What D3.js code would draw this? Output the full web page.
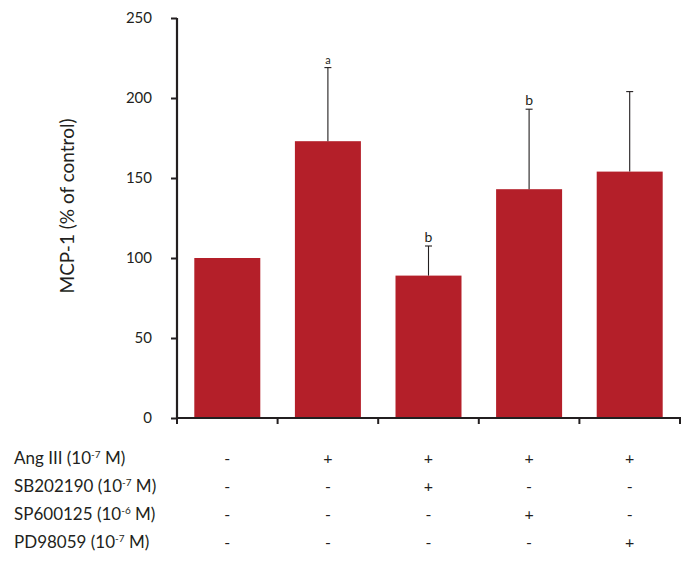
<!DOCTYPE html>
<html>
<head>
<meta charset="utf-8">
<script src="https://cdn.jsdelivr.net/npm/d3@7"></script>
<style>
  body { margin: 0; background: #fff; }
  text { font-family: Lato, "Open Sans", sans-serif; fill: #231f20; }
</style>
</head>
<body>
<script>
// data
const groups = ['control', 'AngIII', 'AngIII+SB', 'AngIII+SP', 'AngIII+PD'];
const means = [100, 173, 89, 143, 154];
const errTop = [null, 219, 107.5, 193, 204];
const sigLabels = ['', 'a', 'b', 'b', ''];
const yTicks = [0, 50, 100, 150, 200, 250];

const rowNames = [
  ['Ang III (10', '-7', ' M)'],
  ['SB202190 (10', '-7', ' M)'],
  ['SP600125 (10', '-6', ' M)'],
  ['PD98059 (10', '-7', ' M)']
];
const rowSigns = [
  ['-', '+', '+', '+', '+'],
  ['-', '-', '+', '-', '-'],
  ['-', '-', '-', '+', '-'],
  ['-', '-', '-', '-', '+']
];

const W = 699, H = 563;
const margin = { left: 177, right: 19, top: 18, bottom: 145 };
const innerH = H - margin.top - margin.bottom;

const svg = d3.select('body').append('svg')
    .attr('width', W)
    .attr('height', H);

const x = d3.scaleBand()
    .domain(groups)
    .range([margin.left, W - margin.right])
    .paddingInner(0.344)
    .paddingOuter(0.172);

const y = d3.scaleLinear()
    .domain([0, 250])
    .range([margin.top + innerH, margin.top]);

const red = '#b41f29';
const ink = '#231f20';

// bars
svg.append('g').selectAll('rect')
    .data(groups)
    .enter()
    .append('rect')
    .attr('x', d => x(d))
    .attr('width', x.bandwidth())
    .attr('y', (d, i) => y(means[i]))
    .attr('height', (d, i) => y(0) - y(means[i]))
    .attr('fill', red);

// error bars (upper only)
let eb = svg.append('g').attr('stroke', ink).attr('stroke-width', 1.1);
groups.forEach((g, i) => {
    if (errTop[i] == null) return;
    let cx = x(g) + x.bandwidth() / 2;
    eb.append('line')
        .attr('x1', cx).attr('x2', cx)
        .attr('y1', y(means[i])).attr('y2', y(errTop[i]));
    eb.append('line')
        .attr('x1', cx - 3.5).attr('x2', cx + 3.5)
        .attr('y1', y(errTop[i])).attr('y2', y(errTop[i]));
});

// significance letters
svg.append('g').selectAll('text')
    .data(groups)
    .enter()
    .append('text')
    .attr('x', d => x(d) + x.bandwidth() / 2)
    .attr('y', (d, i) => errTop[i] == null ? 0 : y(errTop[i]) - 4)
    .attr('text-anchor', 'middle')
    .attr('font-size', (d, i) => sigLabels[i] == 'a' ? 11 : 14)
    .text((d, i) => sigLabels[i]);

// y axis
let yAxis = svg.append('g')
    .attr('transform', 'translate(' + margin.left + ',0)')
    .call(d3.axisLeft(y).tickValues(yTicks).tickSize(6).tickPadding(19));
yAxis.select('.domain').attr('stroke', ink).attr('stroke-width', 2.2)
    .attr('d', 'M0,' + (y(250)) + 'V' + (y(0) + 1));
yAxis.selectAll('.tick line').attr('stroke', ink).attr('stroke-width', 2);
yAxis.selectAll('.tick text')
    .attr('font-size', 15)
    .attr('font-family', 'Lato, sans-serif')
    .attr('fill', ink);

// x axis: ticks on band boundaries
let xb = svg.append('g');
xb.append('line')
    .attr('x1', margin.left - 1).attr('x2', W - margin.right + 1)
    .attr('y1', y(0)).attr('y2', y(0))
    .attr('stroke', ink).attr('stroke-width', 2.2);
let bounds = groups.map(g => x(g) - x.step() * x.paddingOuter());
bounds.push(W - margin.right);
xb.selectAll('line.tk')
    .data(bounds)
    .enter()
    .append('line')
    .attr('class', 'tk')
    .attr('x1', d => d).attr('x2', d => d)
    .attr('y1', y(0)).attr('y2', y(0) + 6)
    .attr('stroke', ink).attr('stroke-width', 2);

// y label
svg.append('text')
    .attr('transform', 'translate(74,206) rotate(-90)')
    .attr('text-anchor', 'middle')
    .attr('font-size', 19)
    .text('MCP-1 (% of control)');

// treatment table under the axis
const rowY = [458, 486, 514, 542];
rowNames.forEach((parts, r) => {
    let t = svg.append('text')
        .attr('x', 14)
        .attr('y', rowY[r] + 6)
        .attr('font-size', 17);
    t.append('tspan').text(parts[0]);
    t.append('tspan').attr('font-size', 10).attr('dy', -6).text(parts[1]);
    t.append('tspan').attr('dy', 6).text(parts[2]);

    svg.append('g').selectAll('text')
        .data(rowSigns[r])
        .enter()
        .append('text')
        .attr('x', (d, i) => x(groups[i]) + x.bandwidth() / 2)
        .attr('y', rowY[r] + 6)
        .attr('text-anchor', 'middle')
        .attr('font-size', 16)
        .text(d => d);
});
</script>
</body>
</html>
